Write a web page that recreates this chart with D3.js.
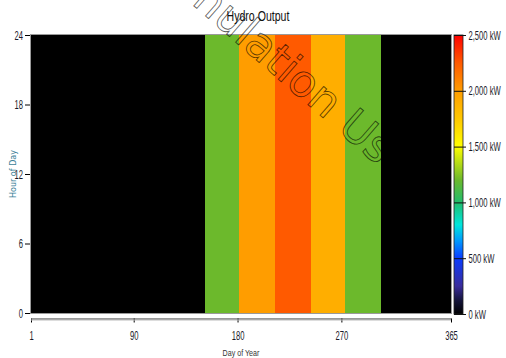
<!DOCTYPE html>
<html>
<head>
<meta charset="utf-8">
<script src="https://cdn.jsdelivr.net/npm/d3@7"></script>
<style>
  body { margin: 0; background: #fff; }
  text { font-family: "Liberation Sans", Arial, sans-serif; }
  text.wm, text.axis-title { font-family: "DejaVu Sans", sans-serif; }
</style>
</head>
<body>
<svg id="viz-hydro"></svg>
<script>
(function() {

// month start days and hydro output (kW), constant over the hours of each month
const monthStart = [1, 32, 60, 91, 121, 152, 182, 213, 244, 274, 305, 335];
const monthEnd = [32, 60, 91, 121, 152, 182, 213, 244, 274, 305, 335, 366];
const hydroKw = [0, 0, 0, 0, 0, 1200, 2000, 2250, 1900, 1200, 0, 0];

const dayTicks = [1, 90, 180, 270, 365];
const hourTicks = [0, 6, 12, 18, 24];
const legendTicks = [0, 500, 1000, 1500, 2000, 2500];

// colour stops of the legend bar
const stopValues = [0, 120, 250, 500, 650, 800, 1000, 1200, 1500, 1750, 2000, 2250, 2500];
const stopColors = ["#000000", "#14143a", "#3a2c9c", "#0a3cff", "#0096ff", "#00e6dc", "#22bd6c",
                    "#6cb92c", "#ffff00", "#ffc800", "#ff9d00", "#ff5a00", "#ff0000"];

const W = 506, H = 358;
const plot = { left: 31, right: 451, top: 35, bottom: 313 };
const squeezeX = 0.61;   // the labels are drawn narrow

const svg = d3.select("#viz-hydro")
    .attr("width", W)
    .attr("height", H);

// narrow a text horizontally while keeping its anchor point
function squeeze(sel, s) {
    sel.each(function() {
        const t = d3.select(this);
        const x0 = +t.attr("x") || 0;
        t.attr("x", x0 / s).attr("transform", `scale(${s},1)`);
    });
}

const x = d3.scaleLinear().domain([1, 366]).range([plot.left, plot.right]);
const xAxisScale = d3.scaleLinear().domain([1, 365]).range([plot.left, plot.right]);
const y = d3.scaleLinear().domain([0, 24]).range([plot.bottom, plot.top]);
const color = d3.scaleLinear().domain(stopValues).range(stopColors).clamp(true);

// heat map cells
svg.append("g")
    .selectAll("rect")
    .data(hydroKw)
    .enter().append("rect")
    .attr("x", (d, i) => x(monthStart[i]))
    .attr("width", (d, i) => x(monthEnd[i]) - x(monthStart[i]))
    .attr("y", y(24))
    .attr("height", y(0) - y(24))
    .attr("fill", d => color(d))
    .attr("shape-rendering", "crispEdges");

svg.append("rect")
    .attr("x", plot.left - 0.5)
    .attr("y", plot.top - 0.5)
    .attr("width", plot.right - plot.left + 1)
    .attr("height", plot.bottom - plot.top + 1)
    .attr("fill", "none")
    .attr("stroke", "#9a9a9a");

// Y-axis
const yAxis = svg.append("g")
    .attr("transform", `translate(${plot.left - 1},0)`)
    .call(d3.axisLeft(y).tickValues(hourTicks).tickSize(5).tickPadding(2).tickSizeOuter(0));
yAxis.select(".domain").remove();
yAxis.selectAll("text").attr("font-size", "12.5px").attr("fill", "#1a1a2a").call(squeeze, squeezeX);

svg.append("text")
    .attr("class", "axis-title")
    .attr("transform", `translate(16,${(plot.top + plot.bottom) / 2}) rotate(-90)`)
    .attr("text-anchor", "middle")
    .attr("font-size", "8px")
    .attr("fill", "#3d7f98")
    .text("Hour of Day");

// X-axis (detached below the plot)
const xAxis = svg.append("g")
    .attr("transform", "translate(0,318.5)")
    .call(d3.axisBottom(xAxisScale).tickValues(dayTicks).tickFormat(d3.format("d")).tickSize(4).tickSizeOuter(0));
xAxis.select(".domain").attr("stroke", "#333");
xAxis.selectAll("text").attr("font-size", "12.5px").attr("fill", "#1a1a2a").attr("dy", "1.15em")
    .call(squeeze, squeezeX);

svg.append("line")
    .attr("x1", plot.left).attr("x2", plot.right)
    .attr("y1", 320).attr("y2", 320)
    .attr("stroke", "#bbb");

svg.append("text")
    .attr("x", 241)
    .attr("y", 356)
    .attr("text-anchor", "middle")
    .attr("font-size", "9.5px")
    .attr("fill", "#333")
    .text("Day of Year")
    .call(squeeze, 0.75);

// title
svg.append("text")
    .attr("x", 258)
    .attr("y", 21)
    .attr("text-anchor", "middle")
    .attr("font-size", "14.5px")
    .attr("fill", "#111")
    .text("Hydro Output")
    .call(squeeze, 0.73);

// colour legend
const legendY = d3.scaleLinear().domain([0, 2500]).range([314, 35]);
const grad = svg.append("defs").append("linearGradient")
    .attr("id", "hydro-grad")
    .attr("x1", 0).attr("x2", 0).attr("y1", 1).attr("y2", 0);
grad.selectAll("stop")
    .data(stopValues)
    .enter().append("stop")
    .attr("offset", d => d / 2500)
    .attr("stop-color", (d, i) => stopColors[i]);

svg.append("rect")
    .attr("x", 454)
    .attr("y", legendY(2500))
    .attr("width", 9)
    .attr("height", legendY(0) - legendY(2500))
    .attr("fill", "url(#hydro-grad)")
    .attr("stroke", "#222")
    .attr("stroke-width", 0.8);

const legendAxis = svg.append("g")
    .attr("transform", "translate(462,0)")
    .call(d3.axisRight(legendY).tickValues(legendTicks).tickSize(4).tickSizeOuter(0)
        .tickFormat(d => d3.format(",")(d) + " kW"));
legendAxis.select(".domain").remove();
legendAxis.selectAll("line").attr("x1", -8).attr("stroke", "#111");
legendAxis.selectAll("text").attr("font-size", "12.5px").attr("fill", "#1a1a2a").attr("x", 6.5)
    .call(squeeze, squeezeX);

// watermark
svg.append("defs").append("clipPath")
    .attr("id", "wm-clip")
    .append("rect")
    .attr("x", 0).attr("y", 0).attr("width", plot.right).attr("height", H);

svg.append("g")
    .attr("clip-path", "url(#wm-clip)")
    .append("text")
    .attr("class", "wm")
    .attr("transform", "translate(327,101) rotate(41)")
    .attr("text-anchor", "middle")
    .attr("dominant-baseline", "central")
    .attr("font-size", "44px")
    .attr("fill", "none")
    .attr("stroke", "#000")
    .attr("stroke-opacity", 0.65)
    .attr("stroke-width", 0.9)
    .text("Simulation Use Only");

})();
</script>
</body>
</html>
